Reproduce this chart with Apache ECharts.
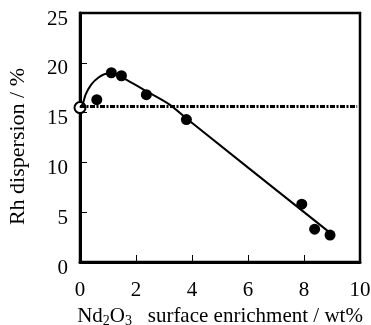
<!DOCTYPE html>
<html>
<head>
<meta charset="utf-8">
<script src="https://cdn.jsdelivr.net/npm/echarts@6/dist/echarts.min.js"></script>
<style>
  html, body { margin: 0; padding: 0; background: #fff; }
  #chart { width: 371px; height: 325px; }
</style>
</head>
<body>
<div id="chart"></div>
<script>
// measured points (filled circles)
var measX = [0.6, 1.12, 1.48, 2.37, 3.8, 7.92, 8.38, 8.93];
var measY = [16.3, 19.0, 18.7, 16.8, 14.3, 5.8, 3.3, 2.7];
// reference (no Nd2O3), open circle
var refPoint = [0, 15.5];
// fitted curve
var fitX = [0, 0.1, 0.2, 0.4, 0.65, 0.95, 1.25, 1.65, 2.4, 3.2, 3.85, 8.9];
var fitY = [15.5, 15.9, 16.8, 17.8, 18.5, 18.9, 18.9, 18.3, 17.1, 15.8, 14.3, 3.0];
// reference level, dash-dot
var refLevel = 15.6;

var font = 'Liberation Serif';

function zip(a, b) {
    return a.map(function (v, i) { return [v, b[i]]; });
}

var chart = echarts.init(document.getElementById('chart'));
chart.setOption({
    animation: false,
    grid: {
        left: 80, right: 11, top: 13, bottom: 63,
        outerBoundsMode: 'none', containLabel: false,
        show: true, borderColor: '#000', borderWidth: 2.5
    },
    // y axis title, placed by hand (sits a bit below the plot middle)
    graphic: [{
        type: 'text', left: 7, top: 68, rotation: Math.PI / 2,
        style: {
            text: 'Rh dispersion / %', fill: '#000',
            font: '22px "Liberation Serif"'
        }
    }],
    xAxis: {
        type: 'value', min: 0, max: 10, interval: 2,
        axisLine: { lineStyle: { color: '#000', width: 3 } },
        axisTick: { inside: true, length: 7, lineStyle: { color: '#000', width: 1 } },
        axisLabel: { color: '#000', fontFamily: font, fontSize: 21, margin: 18 },
        splitLine: { show: false },
        name: '{n|Nd}{s|2}{n|O}{s|3}{n|   surface enrichment / wt%}',
        nameLocation: 'middle', nameGap: 38,
        nameTextStyle: {
            rich: {
                n: { color: '#000', fontFamily: font, fontSize: 21 },
                s: { color: '#000', fontFamily: font, fontSize: 14, verticalAlign: 'bottom', padding: [9, 0, 0, 0] }
            }
        }
    },
    yAxis: {
        type: 'value', min: 0, max: 25, interval: 5,
        axisLine: { lineStyle: { color: '#000', width: 3 } },
        axisTick: { inside: true, length: 7, lineStyle: { color: '#000', width: 1 } },
        axisLabel: {
            color: '#000', fontFamily: font, fontSize: 21, margin: 12,
            verticalAlign: 'top', lineHeight: 12
        },
        splitLine: { show: false }
    },
    series: [
        {
            type: 'line', data: [[0, refLevel], [9.9, refLevel]],
            symbol: 'none', silent: true,
            lineStyle: { color: '#000', width: 3, type: [5, 1.5, 2, 1.5] }
        },
        {
            type: 'line', data: zip(fitX, fitY), smooth: 0.3,
            symbol: 'none', silent: true,
            lineStyle: { color: '#000', width: 2 }
        },
        {
            type: 'scatter', data: zip(measX, measY),
            symbol: 'circle', symbolSize: 11,
            itemStyle: { color: '#000', opacity: 1 }
        },
        {
            type: 'scatter', data: [refPoint], clip: false,
            symbol: 'circle', symbolSize: 11,
            itemStyle: { color: '#fff', borderColor: '#000', borderWidth: 2, opacity: 1 }
        }
    ]
});
</script>
</body>
</html>
